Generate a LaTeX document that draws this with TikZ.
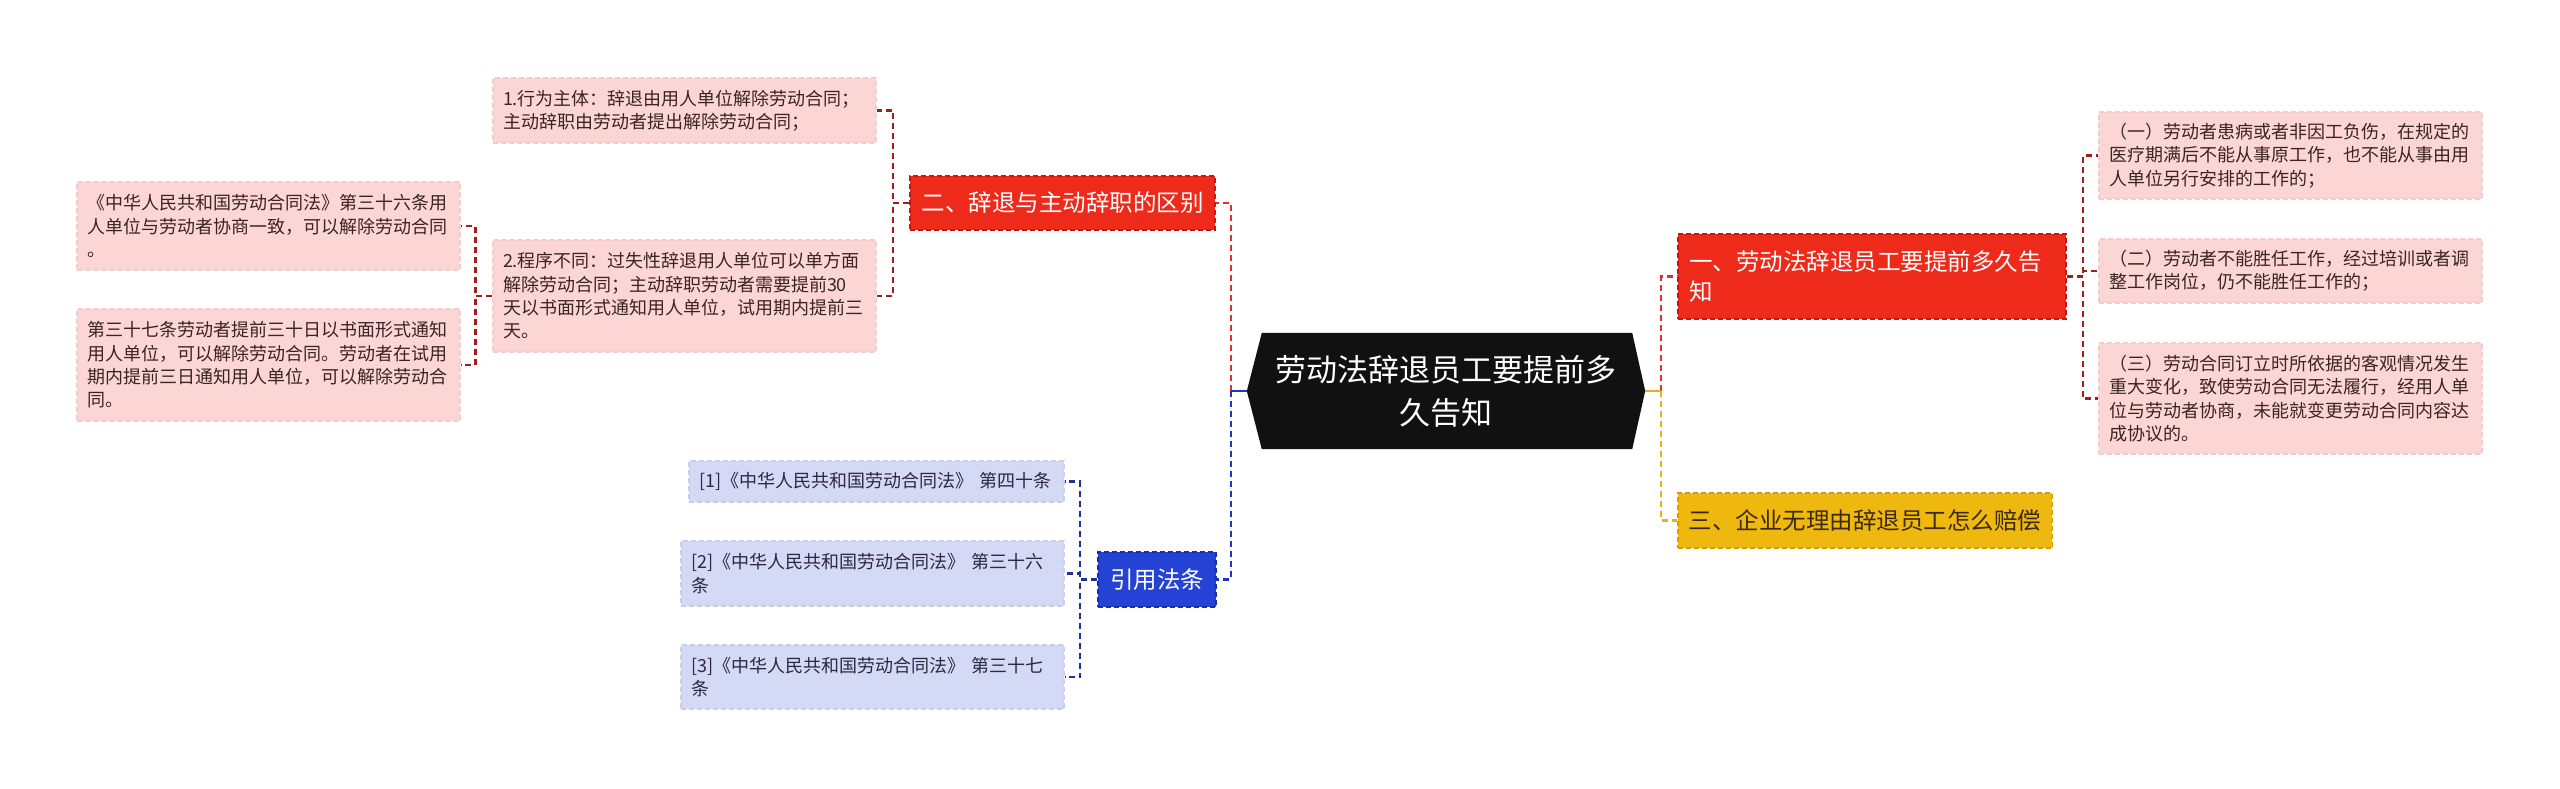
\documentclass[tikz,border=0pt]{standalone}
\usepackage{fontspec}
\setmainfont{Noto Sans CJK SC}
\usetikzlibrary{calc}

\definecolor{redfill}{HTML}{EE2A1B}
\definecolor{redborder}{HTML}{C4170E}
\definecolor{pinkfill}{HTML}{FCD6D4}
\definecolor{pinkborder}{HTML}{F6CAC8}
\definecolor{pinktext}{HTML}{3A2424}
\definecolor{bluefill}{HTML}{2442D4}
\definecolor{blueborder}{HTML}{1A2E9E}
\definecolor{lbluefill}{HTML}{D4D9F6}
\definecolor{lblueborder}{HTML}{C6CDF0}
\definecolor{bluetext}{HTML}{2A2A40}
\definecolor{yelfill}{HTML}{EFB80F}
\definecolor{yelborder}{HTML}{D49E00}
\definecolor{yeltext}{HTML}{3A2A05}
\definecolor{redline}{HTML}{E0302A}
\definecolor{darkredline}{HTML}{A51C1C}
\definecolor{blueline}{HTML}{1F35C0}
\definecolor{darkblueline}{HTML}{1E2E9E}
\definecolor{yelline}{HTML}{E8B020}
\definecolor{centerfill}{HTML}{111111}

\tikzset{
  leaf/.style={rectangle, inner xsep=10pt, inner ysep=0pt, align=left,
    font=\fontsize{18}{23.3}\selectfont, dash pattern=on 5pt off 3pt, line width=1.2pt},
  pinkleaf/.style={leaf, fill=pinkfill, draw=pinkborder, text=pinktext},
  blueleaf/.style={leaf, fill=lbluefill, draw=lblueborder, text=bluetext},
  branch/.style={rectangle, inner xsep=11pt, inner ysep=0pt, align=left,
    font=\fontsize{23.5}{30}\selectfont, dash pattern=on 5pt off 3pt, line width=1.5pt},
  redbranch/.style={branch, fill=redfill, draw=redborder, text=white},
  bluebranch/.style={branch, fill=bluefill, draw=blueborder, text=white},
  yelbranch/.style={branch, fill=yelfill, draw=yelborder, text=yeltext},
  conn/.style={line width=2.2pt, dash pattern=on 6pt off 4pt},
  redconn/.style={conn, draw=redline},
  darkredconn/.style={conn, draw=darkredline},
  blueconn/.style={conn, draw=blueline},
  darkblueconn/.style={conn, draw=darkblueline},
  yelconn/.style={conn, draw=yelline},
  stub/.style={line width=2.2pt},
}

\begin{document}
\begin{tikzpicture}[x=1pt, y=-1pt]
\fill[white] (0,0) rectangle (2560,788);
\useasboundingbox (0,0) rectangle (2560,788);

% center
\node[rectangle, inner sep=0pt, minimum width=398pt, minimum height=116pt] (C) at (1446,391) {};
\fill[centerfill] (C.west) -- ($(C.north west)+(15,0)$) -- ($(C.north east)+(-13,0)$) -- (C.east)
  -- ($(C.south east)+(-13,0)$) -- ($(C.south west)+(15,0)$) -- cycle;
\node[align=center, text=white, font=\fontsize{31}{43}\selectfont, inner sep=0pt] (Ct) at (1446,391)
  {劳动法辞退员工要提前多\\久告知};

% left red branch
\node[redbranch, minimum width=305pt, minimum height=54pt] (er) at (1062.5,203) {二、辞退与主动辞职的区别};
\node[pinkleaf, text width=363pt, minimum height=65pt] (M1) at (684.5,110.5)
  {1.行为主体：辞退由用人单位解除劳动合同；\\主动辞职由劳动者提出解除劳动合同；};
\node[pinkleaf, text width=363pt, minimum height=112pt] (M2) at (684.5,296)
  {2.程序不同：过失性辞退用人单位可以单方面\\解除劳动合同；主动辞职劳动者需要提前30\\天以书面形式通知用人单位，试用期内提前三\\天。};
\node[pinkleaf, text width=363pt, minimum height=88pt] (L1) at (268.5,226)
  {《中华人民共和国劳动合同法》第三十六条用\\人单位与劳动者协商一致，可以解除劳动合同\\。};
\node[pinkleaf, text width=363pt, minimum height=112pt] (L2) at (268.5,365)
  {第三十七条劳动者提前三十日以书面形式通知\\用人单位，可以解除劳动合同。劳动者在试用\\期内提前三日通知用人单位，可以解除劳动合\\同。};

% blue branch
\node[bluebranch, minimum width=118pt, minimum height=55pt] (yy) at (1157,579.5) {引用法条};
\node[blueleaf, text width=355pt, minimum height=41pt] (B1) at (876.5,481.5)
  {[1]《中华人民共和国劳动合同法》 第四十条};
\node[blueleaf, text width=363pt, minimum height=65pt] (B2) at (872.5,573.5)
  {[2]《中华人民共和国劳动合同法》 第三十六\\条};
\node[blueleaf, text width=363pt, minimum height=64pt] (B3) at (872.5,677)
  {[3]《中华人民共和国劳动合同法》 第三十七\\条};

% right red branch
\node[redbranch, text width=366pt, minimum height=85pt] (yi) at (1872,276.5)
  {一、劳动法辞退员工要提前多久告\\知};
\node[pinkleaf, text width=363pt, minimum height=87pt] (R1) at (2290.5,155.5)
  {（一）劳动者患病或者非因工负伤，在规定的\\医疗期满后不能从事原工作，也不能从事由用\\人单位另行安排的工作的；};
\node[pinkleaf, text width=363pt, minimum height=64pt] (R2) at (2290.5,271)
  {（二）劳动者不能胜任工作，经过培训或者调\\整工作岗位，仍不能胜任工作的；};
\node[pinkleaf, text width=363pt, minimum height=111pt] (R3) at (2290.5,398.5)
  {（三）劳动合同订立时所依据的客观情况发生\\重大变化，致使劳动合同无法履行，经用人单\\位与劳动者协商，未能就变更劳动合同内容达\\成协议的。};

% yellow branch
\node[yelbranch, minimum width=374pt, minimum height=55pt] (san) at (1865,520.5) {三、企业无理由辞退员工怎么赔偿};

% connectors from the centre
\coordinate (cl) at ($(C.west)+(-16,0)$);
\coordinate (cr) at ($(C.east)+(16,0)$);
\draw[redconn] (cl) |- (er.east);
\draw[blueconn] (cl) |- (yy.east);
\draw[redconn] (cr) |- (yi.west);
\draw[yelconn] (cr) |- (san.west);
\draw[stub, blueline] (C.west) -- (cl);
\draw[stub, yelline] (C.east) -- (cr);

% branch to leaves
\draw[darkredconn] (er.west) -- ++(-16,0) |- (M1.east);
\draw[darkredconn] (er.west) -- ++(-16,0) |- (M2.east);
\draw[darkredconn] (M2.west) -- ++(-17,0) |- (L1.east);
\draw[darkredconn] (M2.west) -- ++(-17,0) |- (L2.east);

\draw[darkblueconn] (yy.west) -- ++(-17,0) |- (B1.east);
\draw[darkblueconn] (yy.west) -- ++(-17,0) |- (B2.east);
\draw[darkblueconn] (yy.west) -- ++(-17,0) |- (B3.east);

\draw[darkredconn] (yi.east) -- ++(16,0) |- (R1.west);
\draw[darkredconn] (yi.east) -- ++(16,0) |- (R2.west);
\draw[darkredconn] (yi.east) -- ++(16,0) |- (R3.west);
\end{tikzpicture}
\end{document}
